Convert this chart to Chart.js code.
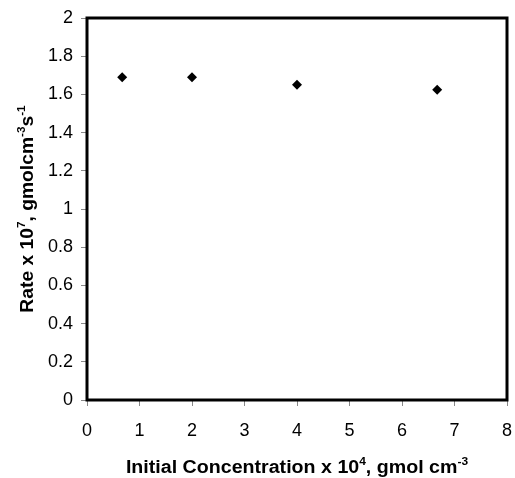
<!DOCTYPE html>
<html>
<head>
<meta charset="utf-8">
<script src="https://cdn.jsdelivr.net/npm/chart.js@4"></script>
<style>
  html, body { margin: 0; padding: 0; background: #fff; }
  #wrap { width: 515px; height: 478px; }
</style>
</head>
<body>
<div id="wrap"><canvas id="rateChart" width="515" height="478"></canvas></div>
<script>
  // initial concentration x 10^4 (gmol cm^-3)
  const concentration = [0.67, 2, 4, 6.67];
  // rate x 10^7 (gmol cm^-3 s^-1)
  const rate = [1.69, 1.69, 1.65, 1.625];
  const xTicks = [0, 1, 2, 3, 4, 5, 6, 7, 8];
  const yTicks = [0, 0.2, 0.4, 0.6, 0.8, 1, 1.2, 1.4, 1.6, 1.8, 2];

  const fontFamily = '"Liberation Sans", Arial, sans-serif';

  // title text pieces, some raised as superscripts
  function richWidth(ctx, parts, size) {
    let w = 0;
    parts.forEach((p) => {
      ctx.font = `bold ${p.sup ? Math.round(size * 0.6) : size}px ${fontFamily}`;
      w += ctx.measureText(p.t).width;
    });
    return w;
  }

  function drawRich(ctx, parts, size, x, y) {
    let cx = x - richWidth(ctx, parts, size) / 2;
    parts.forEach((p) => {
      const s = p.sup ? Math.round(size * 0.6) : size;
      ctx.font = `bold ${s}px ${fontFamily}`;
      ctx.fillText(p.t, cx, p.sup ? y - size * 0.45 : y);
      cx += ctx.measureText(p.t).width;
    });
  }

  const xTitle = [
    { t: 'Initial Concentration x 10' }, { t: '4', sup: true },
    { t: ', gmol cm' }, { t: '-3', sup: true },
  ];
  const yTitle = [
    { t: 'Rate x 10' }, { t: '7', sup: true },
    { t: ', gmolcm' }, { t: '-3', sup: true },
    { t: 's' }, { t: '-1', sup: true },
  ];

  const framePlugin = {
    id: 'frame',
    afterDraw(chart) {
      const { ctx, chartArea: a } = chart;
      ctx.save();
      ctx.strokeStyle = '#000';
      ctx.lineWidth = 3;
      ctx.strokeRect(a.left, a.top, a.right - a.left, a.bottom - a.top);
      ctx.fillStyle = '#000';
      ctx.textBaseline = 'alphabetic';

      ctx.save();
      ctx.translate((a.left + a.right) / 2, 473);
      ctx.scale(1.09, 1);
      drawRich(ctx, xTitle, 18, 0, 0);
      ctx.restore();

      ctx.translate(33, (a.top + a.bottom) / 2);
      ctx.rotate(-Math.PI / 2);
      ctx.scale(1.07, 1);
      drawRich(ctx, yTitle, 18, 0, 0);
      ctx.restore();
    },
  };

  new Chart(document.getElementById('rateChart'), {
    type: 'scatter',
    data: {
      datasets: [{
        data: concentration.map((x, i) => ({ x, y: rate[i] })),
        pointStyle: 'rectRot',
        pointRadius: 5,
        backgroundColor: '#000',
        borderColor: '#000',
        borderWidth: 0,
      }],
    },
    options: {
      responsive: false,
      animation: false,
      layout: { autoPadding: false, padding: { top: 18, right: 8, left: 0, bottom: 0 } },
      plugins: { legend: { display: false }, tooltip: { enabled: false } },
      scales: {
        x: {
          type: 'linear',
          min: 0,
          max: 8,
          afterBuildTicks: (s) => { s.ticks = xTicks.map((v) => ({ value: v })); },
          afterFit: (s) => {
            s.height = 78;
            s.paddingLeft = 0;
            s.paddingRight = 0;
          },
          grid: { drawOnChartArea: false, tickLength: 6, color: '#888', lineWidth: 1 },
          border: { display: false },
          ticks: { color: '#000', padding: 14, font: { family: fontFamily, size: 18 } },
        },
        y: {
          min: 0,
          max: 2,
          afterBuildTicks: (s) => { s.ticks = yTicks.map((v) => ({ value: v })); },
          afterFit: (s) => {
            s.width = 87;
            s.paddingTop = 0;
            s.paddingBottom = 0;
          },
          grid: { drawOnChartArea: false, tickLength: 6, color: '#888', lineWidth: 1 },
          border: { display: false },
          ticks: {
            color: '#000',
            padding: 8,
            font: { family: fontFamily, size: 18 },
            callback: (v) => String(Math.round(v * 10) / 10),
          },
        },
      },
    },
    plugins: [framePlugin],
  });
</script>
</body>
</html>
